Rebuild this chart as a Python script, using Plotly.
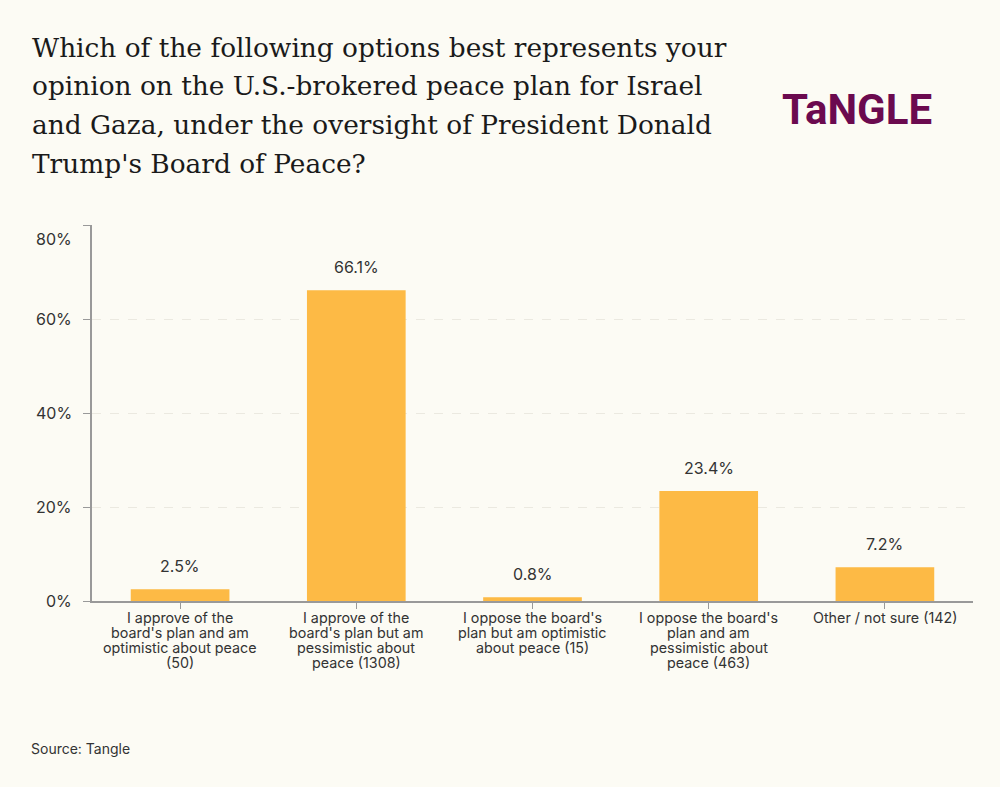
import plotly.graph_objects as go

categories = [
    "I approve of the<br>board's plan and am<br>optimistic about peace<br>(50)",
    "I approve of the<br>board's plan but am<br>pessimistic about<br>peace (1308)",
    "I oppose the board's<br>plan but am optimistic<br>about peace (15)",
    "I oppose the board's<br>plan and am<br>pessimistic about<br>peace (463)",
    "Other / not sure (142)",
]
values = [2.5, 66.1, 0.8, 23.4, 7.2]
labels = ["2.5%", "66.1%", "0.8%", "23.4%", "7.2%"]
tick_vals = [0, 20, 40, 60, 80]
tick_text = ["0%", "20%", "40%", "60%", "80%"]
title_lines = [
    "Which of the following options best represents your",
    "opinion on the U.S.-brokered peace plan for Israel",
    "and Gaza, under the oversight of President Donald",
    "Trump's Board of Peace?",
]

BG = "#fcfbf4"
BAR = "#fdba45"
SANS = "Inter, Roboto, 'Noto Sans', sans-serif"
SERIF = "'DejaVu Serif', 'Liberation Serif', serif"

W, H = 1000, 787
ML, MR, MT, MB = 92, 27, 225, 186
PH = H - MT - MB
PW = W - ML - MR


def px_y(p):
    return (H - MB - p) / PH


def px_x(p):
    return (p - ML) / PW


fig = go.Figure()
fig.add_trace(go.Bar(
    x=list(range(len(categories))), y=values,
    marker=dict(color=BAR, line=dict(width=0)),
    hoverinfo="skip",
))

for i, (v, t) in enumerate(zip(values, labels)):
    fig.add_annotation(x=i, y=v, text=t, showarrow=False, yanchor="bottom",
                       yshift=11, font=dict(family=SANS, size=16, color="#333333"))

# category labels, one annotation per line for tight line spacing
for i, c in enumerate(categories):
    for k, line in enumerate(c.split("<br>")):
        fig.add_annotation(x=i, xref="x", y=0, yref="paper", text=line, showarrow=False,
                           yanchor="middle", yshift=-(16 + 15 * k),
                           font=dict(family=SANS, size=14.3, color="#333333"))

# y tick labels (80% label drawn slightly lower as in the reference)
for tv, tt in zip(tick_vals, tick_text):
    fig.add_annotation(x=0, xref="paper", y=tv, yref="y", text=tt, showarrow=False,
                       xanchor="right", xshift=-18, yshift=(-14 if tv == 80 else 0),
                       font=dict(family=SANS, size=16, color="#333333"))

for k, line in enumerate(title_lines):
    fig.add_annotation(
        xref="paper", yref="paper", x=px_x(30), y=px_y(47 + 38.7 * k),
        xanchor="left", yanchor="middle", align="left", showarrow=False,
        text=line, font=dict(family=SERIF, size=26.4, color="#1a1a1a"),
    )

fig.add_annotation(
    xref="paper", yref="paper", x=px_x(934), y=px_y(110), xanchor="right", yanchor="middle",
    showarrow=False, text="<b>TaNGLE</b>",
    font=dict(family="Roboto, sans-serif", size=42, color="#6b0a4f"),
)
fig.add_annotation(
    xref="paper", yref="paper", x=px_x(29), y=px_y(748), xanchor="left", yanchor="middle",
    showarrow=False, text="Source: Tangle",
    font=dict(family=SANS, size=14, color="#333333"),
)

fig.update_layout(
    width=W, height=H,
    paper_bgcolor=BG, plot_bgcolor=BG,
    margin=dict(l=ML, r=MR, t=MT, b=MB),
    bargap=0.44, showlegend=False,
    font=dict(family=SANS, color="#333333"),
)
fig.update_xaxes(
    tickmode="array", tickvals=list(range(len(categories))), showticklabels=False,
    range=[-0.5, 4.5], showline=True, linecolor="#999999", linewidth=1.5,
    ticks="outside", ticklen=6, tickcolor="#999999", showgrid=False, zeroline=False,
)
fig.update_yaxes(
    range=[0, 80], tickvals=tick_vals, showticklabels=False,
    showline=True, linecolor="#999999", linewidth=1.5,
    ticks="outside", ticklen=7, tickcolor="#999999",
    showgrid=True, gridcolor="#ebe9e0", griddash="dash", gridwidth=1,
    zeroline=False,
)

fig.write_html(
    "out.html",
    config={"displayModeBar": False},
    post_script="document.body.style.margin='0';document.body.style.background='#fcfbf4';",
)
